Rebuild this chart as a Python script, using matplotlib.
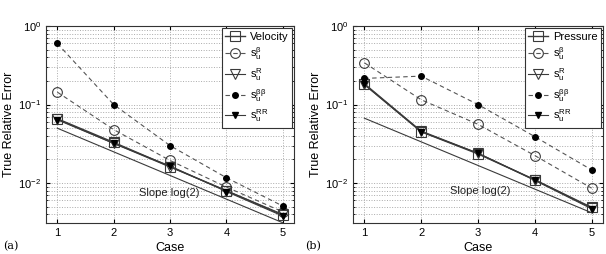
import matplotlib
matplotlib.use("Agg")
import matplotlib.pyplot as plt
import numpy as np

plt.rcParams['font.family'] = ['Liberation Sans', 'DejaVu Sans']
plt.rcParams['mathtext.fontset'] = 'custom'
plt.rcParams['mathtext.rm'] = 'Liberation Sans'
plt.rcParams['mathtext.it'] = 'Liberation Sans'
plt.rcParams['mathtext.sf'] = 'Liberation Sans'

cases = [1, 2, 3, 4, 5]

# Panel (a)
vel = [0.066, 0.033, 0.0162, 0.0080, 0.0039]
a_beta = [0.144, 0.048, 0.0194, 0.0089, 0.0043]
a_R = [0.065, 0.032, 0.0160, 0.0080, 0.0040]
a_bb = [0.60, 0.100, 0.030, 0.0117, 0.0051]
a_RR = [0.064, 0.032, 0.0165, 0.0078, 0.0038]
a_slope_start = 0.05

# Panel (b)
pres = [0.180, 0.045, 0.0235, 0.0110, 0.0049]
b_beta = [0.34, 0.115, 0.056, 0.0224, 0.0086]
b_R = [0.185, 0.046, 0.0240, 0.0110, 0.0048]
b_bb = [0.215, 0.230, 0.100, 0.039, 0.0147]
b_RR = [0.180, 0.045, 0.0240, 0.0108, 0.0047]
b_slope_start = 0.067

labels_a = ['Velocity', r'$\mathregular{s}_u^{\beta}$', r'$\mathregular{s}_u^{R}$',
            r'$\mathregular{s}_u^{\beta\beta}$', r'$\mathregular{s}_u^{RR}$']
labels_b = ['Pressure'] + labels_a[1:]

dark = '#3a3a3a'
gray = '#555555'

fig = plt.figure(figsize=(6.06, 2.54), dpi=100)
ax1 = fig.add_axes([46/606, 31/254, 248/606, 197/254])
ax2 = fig.add_axes([353/606, 31/254, 250/606, 197/254])


def draw(ax, main, beta, R, bb, RR, slope0, labels, txtx, txty):
    x = np.array(cases, dtype=float)
    slope = slope0 * 2.0 ** (-(x - 1))
    ax.plot(x, slope, '-', color=dark, lw=0.8)
    h1, = ax.plot(x, main, '-', color=dark, lw=1.0, marker='s', ms=7,
                  mfc='none', mec=dark, mew=0.8)
    h2, = ax.plot(x, beta, '--', color=gray, lw=0.8, marker='o', ms=7,
                  mfc='none', mec=dark, mew=0.8, dashes=(4, 3))
    h3, = ax.plot(x, R, '-', color=dark, lw=0.8, marker='v', ms=7,
                  mfc='none', mec=dark, mew=0.8)
    h4, = ax.plot(x, bb, '--', color=gray, lw=0.8, marker='o', ms=4,
                  mfc='black', mec='black', dashes=(4, 3))
    h5, = ax.plot(x, RR, '-', color=dark, lw=0.8, marker='v', ms=5,
                  mfc='black', mec='black')
    ax.set_yscale('log')
    ax.set_ylim(3.1e-3, 1.0)
    ax.set_xlim(0.8, 5.2)
    ax.set_xticks(cases)
    ax.grid(True, which='major', axis='x', ls=':', color='#aaaaaa', lw=0.7)
    ax.grid(True, which='both', axis='y', ls=':', color='#aaaaaa', lw=0.7)
    ax.tick_params(which='both', direction='in', top=True, right=True,
                   labelsize=8, length=3)
    ax.tick_params(which='minor', length=1.5)
    ax.set_xlabel('Case', fontsize=9, labelpad=3)
    ax.set_ylabel('True Relative Error', fontsize=9, labelpad=2)
    ax.text(txtx, txty, 'Slope log(2)', fontsize=8, color='#222222')
    leg = ax.legend([h1, h2, h3, h4, h5], labels, loc='upper right',
                    fontsize=8, handlelength=1.8, handletextpad=0.4,
                    labelspacing=0.35, borderpad=0.3, fancybox=False,
                    framealpha=1, edgecolor='#333333',
                    borderaxespad=0.2)
    leg.get_frame().set_linewidth(0.8)
    for s in ax.spines.values():
        s.set_linewidth(0.8)
        s.set_color('#333333')


draw(ax1, vel, a_beta, a_R, a_bb, a_RR, a_slope_start, labels_a, 2.45, 0.0069)
draw(ax2, pres, b_beta, b_R, b_bb, b_RR, b_slope_start, labels_b, 2.5, 0.0072)

fig.text(3/606, 1 - 246/254, '(a)', fontsize=8, va='center',
         family=['DejaVu Serif'])
fig.text(305/606, 1 - 246/254, '(b)', fontsize=8, va='center',
         family=['DejaVu Serif'])

fig.savefig('out.png', dpi=100)
